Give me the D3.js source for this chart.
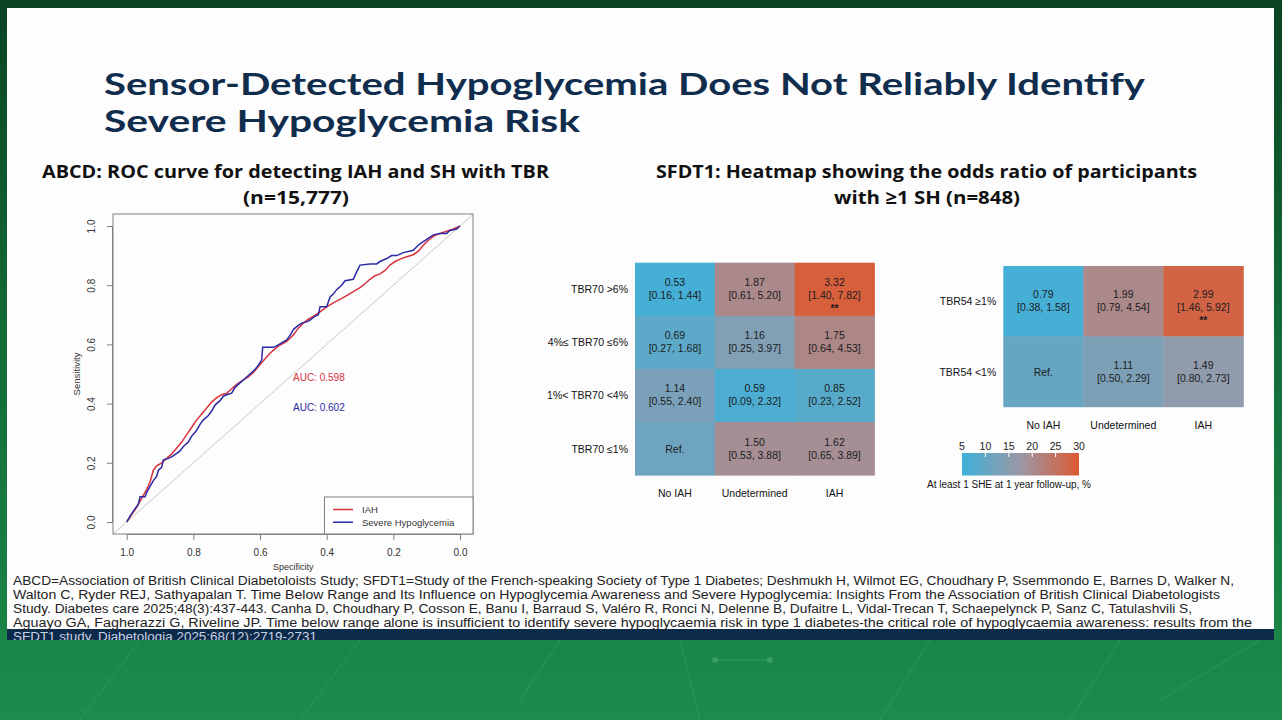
<!DOCTYPE html>
<html><head><meta charset="utf-8">
<script src="https://cdn.jsdelivr.net/npm/d3@7"></script>
<style>html,body{margin:0;padding:0;overflow:hidden;background:#0b4a26;}svg{display:block}</style>
</head><body>
<script>
// ---------------- DATA ----------------
const titleLines = ["Sensor-Detected Hypoglycemia Does Not Reliably Identify", "Severe Hypoglycemia Risk"];
const leftTitle = ["ABCD: ROC curve for detecting IAH and SH with TBR", "(n=15,777)"];
const rightTitle = ["SFDT1: Heatmap showing the odds ratio of participants", "with \u22651 SH (n=848)"];

const rocTicks = [1.0, 0.8, 0.6, 0.4, 0.2, 0.0];
const seriesNames = ["IAH", "Severe Hypoglycemia"];
const aucLabels = ["AUC: 0.598", "AUC: 0.602"];
// [specificity, sensitivity]
const rocIAH = [[1,0],[0.985,0.025],[0.97,0.05],[0.955,0.08],[0.94,0.11],[0.93,0.135],[0.92,0.175],[0.91,0.19],[0.895,0.2],[0.88,0.215],[0.865,0.23],[0.85,0.25],[0.835,0.27],[0.82,0.295],[0.805,0.32],[0.79,0.345],[0.775,0.365],[0.76,0.385],[0.745,0.405],[0.73,0.42],[0.715,0.43],[0.70,0.435],[0.685,0.45],[0.67,0.465],[0.65,0.48],[0.635,0.49],[0.62,0.505],[0.605,0.525],[0.59,0.545],[0.57,0.57],[0.555,0.585],[0.54,0.598],[0.52,0.61],[0.50,0.632],[0.485,0.655],[0.47,0.672],[0.455,0.685],[0.44,0.695],[0.42,0.71],[0.40,0.727],[0.38,0.74],[0.36,0.752],[0.34,0.765],[0.32,0.778],[0.30,0.792],[0.285,0.805],[0.27,0.82],[0.255,0.832],[0.24,0.838],[0.225,0.85],[0.21,0.868],[0.195,0.88],[0.18,0.888],[0.16,0.896],[0.14,0.903],[0.125,0.915],[0.11,0.935],[0.095,0.952],[0.08,0.965],[0.06,0.975],[0.04,0.982],[0.02,0.99],[0,1]];
const rocSH = [[1,0],[0.99,0.02],[0.975,0.045],[0.965,0.06],[0.96,0.085],[0.945,0.085],[0.94,0.1],[0.93,0.12],[0.92,0.14],[0.91,0.155],[0.905,0.175],[0.895,0.185],[0.89,0.21],[0.875,0.215],[0.865,0.22],[0.85,0.232],[0.84,0.24],[0.83,0.255],[0.815,0.27],[0.805,0.29],[0.79,0.31],[0.78,0.33],[0.77,0.345],[0.755,0.36],[0.745,0.375],[0.735,0.395],[0.72,0.41],[0.71,0.425],[0.70,0.43],[0.685,0.435],[0.675,0.455],[0.66,0.47],[0.645,0.485],[0.63,0.5],[0.615,0.515],[0.605,0.53],[0.595,0.548],[0.592,0.59],[0.56,0.59],[0.55,0.595],[0.535,0.605],[0.52,0.615],[0.51,0.63],[0.5,0.65],[0.49,0.66],[0.475,0.672],[0.46,0.676],[0.45,0.682],[0.435,0.695],[0.425,0.70],[0.42,0.727],[0.40,0.727],[0.39,0.76],[0.38,0.77],[0.37,0.785],[0.355,0.80],[0.345,0.815],[0.32,0.82],[0.31,0.845],[0.30,0.868],[0.27,0.872],[0.25,0.872],[0.24,0.88],[0.22,0.89],[0.205,0.9],[0.19,0.9],[0.17,0.91],[0.14,0.918],[0.13,0.93],[0.12,0.94],[0.10,0.955],[0.08,0.97],[0.06,0.975],[0.04,0.975],[0.03,0.985],[0.01,0.99],[0,1]];

const hmCols = ["No IAH", "Undetermined", "IAH"];
const rows70 = ["TBR70 >6%", "4%\u2264 TBR70 \u22646%", "1%< TBR70 <4%", "TBR70 \u22641%"];
const or70 = [["0.53","1.87","3.32"],["0.69","1.16","1.75"],["1.14","0.59","0.85"],["Ref.","1.50","1.62"]];
const ci70 = [["[0.16, 1.44]","[0.61, 5.20]","[1.40, 7.82]"],["[0.27, 1.68]","[0.25, 3.97]","[0.64, 4.53]"],["[0.55, 2.40]","[0.09, 2.32]","[0.23, 2.52]"],["","[0.53, 3.88]","[0.65, 3.89]"]];
const sig70 = [["","","**"],["","",""],["","",""],["","",""]];
const pct70 = [[6,20.5,29],[9,14,21],[13,7,8.5],[11.5,19.5,19.5]];

const rows54 = ["TBR54 \u22651%", "TBR54 <1%"];
const or54 = [["0.79","1.99","2.99"],["Ref.","1.11","1.49"]];
const ci54 = [["[0.38, 1.58]","[0.79, 4.54]","[1.46, 5.92]"],["","[0.50, 2.29]","[0.80, 2.73]"]];
const sig54 = [["","","**"],["","",""]];
const pct54 = [[6,20.5,28],[10.5,13.5,16]];

const legendTicks = [5, 10, 15, 20, 25, 30];
const legendTitle = "At least 1 SHE at 1 year follow-up, %";

const footnote = [
 "ABCD=Association of British Clinical Diabetoloists Study; SFDT1=Study of the French-speaking Society of Type 1 Diabetes; Deshmukh H, Wilmot EG, Choudhary P, Ssemmondo E, Barnes D, Walker N,",
 "Walton C, Ryder REJ, Sathyapalan T. Time Below Range and Its Influence on Hypoglycemia Awareness and Severe Hypoglycemia: Insights From the Association of British Clinical Diabetologists",
 "Study. Diabetes care 2025;48(3):437-443. Canha D, Choudhary P, Cosson E, Banu I, Barraud S, Val\u00e9ro R, Ronci N, Delenne B, Dufaitre L, Vidal-Trecan T, Schaepelynck P, Sanz C, Tatulashvili S,",
 "Aguayo GA, Fagherazzi G, Riveline JP. Time below range alone is insufficient to identify severe hypoglycaemia risk in type 1 diabetes-the critical role of hypoglycaemia awareness: results from the",
 "SFDT1 study. Diabetologia 2025;68(12):2719-2731"
];
const footEnds = [1234, 1220, 1192, 1252, 317];

// ---------------- DRAW ----------------
const W = 1282, H = 720;
const svg = d3.select("body").append("svg").attr("width", W).attr("height", H);
const defs = svg.append("defs");

const bg = defs.append("linearGradient").attr("id","bgG").attr("x1",0).attr("y1",0).attr("x2",0).attr("y2",1);
bg.append("stop").attr("offset","0%").attr("stop-color","#0a4322");
bg.append("stop").attr("offset","45%").attr("stop-color","#136a37");
bg.append("stop").attr("offset","100%").attr("stop-color","#1b8c4b");
svg.append("rect").attr("width",W).attr("height",H).attr("fill","url(#bgG)");
const deco = svg.append("g").attr("stroke","#5fbf86").attr("stroke-opacity",0.25).attr("stroke-width",1).attr("fill","none");
[[80,720,140,640],[300,720,360,640],[520,700,560,640],[700,720,680,640],[880,720,930,640],[1070,720,1120,640],[1160,700,1260,640]].forEach(d=>{
  deco.append("line").attr("x1",d[0]).attr("y1",d[1]).attr("x2",d[2]).attr("y2",d[3]);
});
deco.append("line").attr("x1",715).attr("y1",660).attr("x2",770).attr("y2",660).attr("stroke-opacity",0.4);
svg.append("circle").attr("cx",715).attr("cy",660).attr("r",3).attr("fill","#5fbf86").attr("opacity",0.4);
svg.append("circle").attr("cx",770).attr("cy",660).attr("r",3).attr("fill","#5fbf86").attr("opacity",0.4);

svg.append("rect").attr("x",7).attr("y",8).attr("width",1267).attr("height",622).attr("fill","#fdfdfd");
svg.append("rect").attr("x",7).attr("y",629).attr("width",1267).attr("height",11).attr("fill","#0c2a4a");

// main title
const tEnds = [1145, 580];
svg.append("g").selectAll("text").data(titleLines).join("text")
  .attr("x",104).attr("y",(d,i)=>94.5+i*37.5)
  .attr("textLength",(d,i)=>tEnds[i]-104).attr("lengthAdjust","spacingAndGlyphs")
  .attr("font-family","Lato, 'Open Sans', sans-serif").attr("font-weight",700).attr("font-size",31)
  .attr("fill","#112d4e").text(d=>d);

function subTitle(lines, x0s, x1s){
  svg.append("g").selectAll("text").data(lines).join("text")
    .attr("x",(d,i)=>x0s[i]).attr("y",(d,i)=>178+i*26)
    .attr("textLength",(d,i)=>x1s[i]-x0s[i]).attr("lengthAdjust","spacingAndGlyphs")
    .attr("font-family","'Open Sans', 'Noto Sans', sans-serif").attr("font-weight",700).attr("font-size",18.5)
    .attr("fill","#111").text(d=>d);
}
subTitle(leftTitle, [42, 243], [549, 349]);
subTitle(rightTitle, [656, 834], [1197, 1020]);

// ---------------- ROC ----------------
const box = {l:113, r:473, t:214, b:534};
const xS = d3.scaleLinear().domain([1,0]).range([126.7,460]);
const yS = d3.scaleLinear().domain([0,1]).range([522,226]);
const roc = svg.append("g");
defs.append("clipPath").attr("id","rocClip").append("rect")
  .attr("x",box.l).attr("y",box.t).attr("width",box.r-box.l).attr("height",box.b-box.t);
roc.append("line").attr("clip-path","url(#rocClip)")
  .attr("x1",xS(1.04)).attr("y1",yS(-0.04)).attr("x2",xS(-0.04)).attr("y2",yS(1.04))
  .attr("stroke","#c8c8c8").attr("stroke-width",1);
const line = d3.line().x(d=>xS(d[0])).y(d=>yS(d[1]));
const colors = ["#d8323d","#2b2ba6"];
roc.append("path").datum(rocIAH).attr("d",line).attr("fill","none").attr("stroke",colors[0]).attr("stroke-width",1.5);
roc.append("path").datum(rocSH).attr("d",line).attr("fill","none").attr("stroke",colors[1]).attr("stroke-width",1.5);
roc.append("rect").attr("x",box.l).attr("y",box.t).attr("width",box.r-box.l).attr("height",box.b-box.t)
  .attr("fill","none").attr("stroke","#808080").attr("stroke-width",1);
const xAx = roc.append("g").attr("transform",`translate(0,${box.b})`)
  .call(d3.axisBottom(xS).tickValues(rocTicks).tickFormat(d3.format(".1f")).tickSize(6).tickSizeOuter(0));
xAx.select(".domain").attr("d",`M${xS(1)},0.5H${xS(0)}`).attr("stroke","#808080");
xAx.selectAll(".tick line").attr("stroke","#808080");
xAx.selectAll("text").attr("font-family","'Liberation Sans', Arial, sans-serif").attr("font-size",10).attr("fill","#333").attr("dy","1.25em");
const yAx = roc.append("g").attr("transform",`translate(${box.l},0)`)
  .call(d3.axisLeft(yS).tickValues(rocTicks).tickFormat(d3.format(".1f")).tickSize(6).tickSizeOuter(0));
yAx.select(".domain").attr("d",`M-0.5,${yS(0)}V${yS(1)}`).attr("stroke","#808080");
yAx.selectAll(".tick line").attr("stroke","#808080");
yAx.selectAll("text").attr("font-family","'Liberation Sans', Arial, sans-serif").attr("font-size",10).attr("fill","#333")
  .attr("text-anchor","middle").attr("x",0).attr("dy",0)
  .attr("transform","translate(-18,0) rotate(-90)");
roc.append("text").attr("x",(xS(1)+xS(0))/2).attr("y",570).attr("text-anchor","middle")
  .attr("font-family","'Liberation Sans', Arial, sans-serif").attr("font-size",9).attr("fill","#333").text("Specificity");
roc.append("text").attr("transform",`translate(80,${(yS(0)+yS(1))/2}) rotate(-90)`).attr("text-anchor","middle")
  .attr("font-family","'Liberation Sans', Arial, sans-serif").attr("font-size",9.5).attr("fill","#333").text("Sensitivity");
roc.selectAll("text.auc").data(aucLabels).join("text").attr("class","auc")
  .attr("x",293).attr("y",(d,i)=>381+i*30)
  .attr("font-family","'Liberation Sans', Arial, sans-serif").attr("font-size",10).attr("fill",(d,i)=>colors[i]).text(d=>d);
const lg = roc.append("g");
lg.append("rect").attr("x",324.5).attr("y",497).attr("width",box.r-324.5).attr("height",box.b-497)
  .attr("fill","#fff").attr("stroke","#808080");
seriesNames.forEach((n,i)=>{
  const yy = 509.5 + i*12.7;
  lg.append("line").attr("x1",333).attr("x2",353).attr("y1",yy).attr("y2",yy).attr("stroke",colors[i]).attr("stroke-width",1.5);
  lg.append("text").attr("x",362).attr("y",yy+3.5).attr("font-family","'Liberation Sans', Arial, sans-serif")
    .attr("font-size",9.5).attr("fill","#333").text(n);
});

// ---------------- HEATMAPS ----------------
const color = d3.scaleLinear().domain([5,17.5,30]).range(["#3eb1da","#9b98a6","#dc5a33"]);
function heatmap(x0, y0, cw, rh, rows, ors, cis, sigs, pcts){
  const g = svg.append("g");
  const xb = d3.scaleBand().domain(hmCols).range([x0, x0+3*cw]);
  const yb = d3.scaleBand().domain(rows).range([y0, y0+rows.length*rh]);
  rows.forEach((r,i)=>{
    hmCols.forEach((c,j)=>{
      g.append("rect").attr("x",xb(c)).attr("y",yb(r)).attr("width",xb.bandwidth()+0.5).attr("height",yb.bandwidth()+0.5)
        .attr("fill",color(pcts[i][j]));
      const cx = xb(c)+xb.bandwidth()/2, cy = yb(r)+yb.bandwidth()/2;
      const tx = g.append("g").attr("font-family","'Liberation Sans', Arial, sans-serif").attr("font-size",10.5)
        .attr("fill","#1c1c22").attr("text-anchor","middle");
      if (ors[i][j] === "Ref.") {
        tx.append("text").attr("x",cx).attr("y",cy+4).text("Ref.");
      } else {
        tx.append("text").attr("x",cx).attr("y",cy-3).text(ors[i][j]);
        tx.append("text").attr("x",cx).attr("y",cy+10).text(cis[i][j]);
        if (sigs[i][j]) tx.append("text").attr("x",cx).attr("y",cy+23).attr("font-weight",700).text(sigs[i][j]);
      }
    });
    g.append("text").attr("x",x0-7).attr("y",yb(r)+yb.bandwidth()/2+4).attr("text-anchor","end")
      .attr("font-family","'Liberation Sans', Arial, sans-serif").attr("font-size",10.5).attr("fill","#111").text(r);
  });
  hmCols.forEach(c=>{
    g.append("text").attr("x",xb(c)+xb.bandwidth()/2).attr("y",y0+rows.length*rh+22).attr("text-anchor","middle")
      .attr("font-family","'Liberation Sans', Arial, sans-serif").attr("font-size",10.5).attr("fill","#111").text(c);
  });
}
heatmap(635, 262.7, 79.8, 53.1, rows70, or70, ci70, sig70, pct70);
heatmap(1003.3, 266, 80, 70.35, rows54, or54, ci54, sig54, pct54);

const lx = d3.scaleLinear().domain([5,30]).range([962,1079]);
const lgr = defs.append("linearGradient").attr("id","legG");
d3.range(0,1.0001,0.1).forEach(t=>{
  lgr.append("stop").attr("offset",(t*100)+"%").attr("stop-color",color(5+25*t));
});
svg.append("rect").attr("x",lx(5)).attr("y",453).attr("width",lx(30)-lx(5)).attr("height",22.5).attr("fill","url(#legG)");
const lgAx = svg.append("g");
legendTicks.forEach(t=>{
  if (t>5 && t<30) lgAx.append("line").attr("x1",lx(t)).attr("x2",lx(t)).attr("y1",453).attr("y2",457).attr("stroke","#fff").attr("stroke-width",1);
  lgAx.append("text").attr("x",lx(t)).attr("y",450).attr("text-anchor","middle")
    .attr("font-family","'Liberation Sans', Arial, sans-serif").attr("font-size",10.5).attr("fill","#222").text(t);
});
svg.append("text").attr("x",927).attr("y",488).attr("font-family","'Liberation Sans', Arial, sans-serif")
  .attr("font-size",10).attr("fill","#111").text(legendTitle);

// ---------------- FOOTNOTE ----------------
defs.append("clipPath").attr("id","footClip").append("rect").attr("x",0).attr("y",0).attr("width",W).attr("height",640);
const fg = svg.append("g").attr("clip-path","url(#footClip)");
fg.selectAll("text").data(footnote).join("text")
  .attr("x",13).attr("y",(d,i)=>585+i*14)
  .attr("textLength",(d,i)=>footEnds[i]-13).attr("lengthAdjust","spacingAndGlyphs")
  .attr("font-family","'Liberation Sans', Arial, sans-serif").attr("font-size",12)
  .attr("fill",(d,i)=>i===4?"#c9d2e2":"#222").text(d=>d);
</script>
</body></html>
